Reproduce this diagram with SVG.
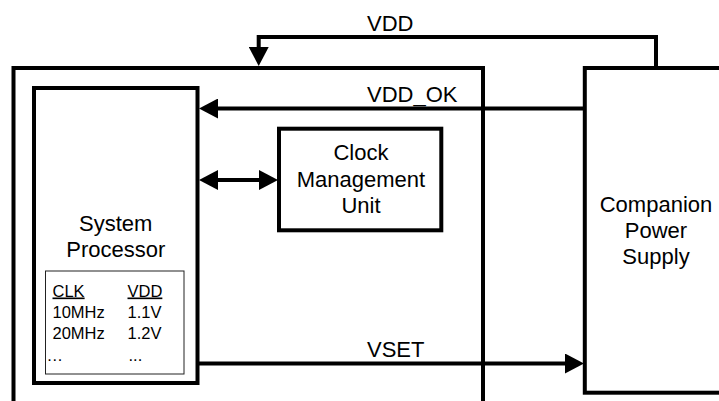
<svg xmlns="http://www.w3.org/2000/svg" width="719" height="401" viewBox="0 0 719 401">
<style>
  .box { fill: #fff; stroke: #000; stroke-width: 4; }
  .tbl { fill: #fff; stroke: #222; stroke-width: 1; }
  .wire { fill: none; stroke: #000; stroke-width: 4; stroke-linejoin: miter; }
  .lbl { font-family: "Liberation Sans", Arial, sans-serif; font-size: 22px; fill: #000; }
  .mid { text-anchor: middle; }
  .small { font-family: "Liberation Sans", Arial, sans-serif; font-size: 16.5px; fill: #000; }
</style>
<defs>
  <marker id="arr" viewBox="0 0 19 20" markerWidth="19" markerHeight="20" refX="9" refY="10" markerUnits="userSpaceOnUse" orient="auto-start-reverse">
    <path d="M0,0 L19,10 L0,20 z" fill="#000"/>
  </marker>
</defs>
<rect width="719" height="401" fill="#fff"/>
<g id="chip">
  <rect class="box" x="13.5" y="68" width="469.5" height="360"/>
</g>
<g id="companion">
  <rect class="box" x="584.8" y="68" width="160" height="324.7"/>
  <text class="lbl mid" x="656" y="211.5">Companion</text>
  <text class="lbl mid" x="656" y="238">Power</text>
  <text class="lbl mid" x="656" y="264">Supply</text>
</g>
<g id="processor">
  <rect class="box" x="34" y="88" width="163.5" height="295"/>
  <text class="lbl mid" x="115.75" y="230.7">System</text>
  <text class="lbl mid" x="115.75" y="256.5">Processor</text>
  <g id="table">
    <rect class="tbl" x="45.5" y="271" width="138.5" height="103"/>
    <text class="small" x="52.5" y="296.5" text-decoration="underline">CLK</text>
    <text class="small" x="127.5" y="296.5" text-decoration="underline">VDD</text>
    <text class="small" x="52.5" y="318">10MHz</text>
    <text class="small" x="127.5" y="318">1.1V</text>
    <text class="small" x="52.5" y="339">20MHz</text>
    <text class="small" x="127.5" y="339">1.2V</text>
    <text class="small" x="46.5" y="360.5">…</text>
    <text class="small" x="128.5" y="360.5">...</text>
  </g>
</g>
<g id="cmu">
  <rect class="box" x="279" y="128.7" width="162.3" height="101.6"/>
  <text class="lbl mid" x="361" y="160">Clock</text>
  <text class="lbl mid" x="361" y="187">Management</text>
  <text class="lbl mid" x="361" y="213.3">Unit</text>
</g>
<g id="connectors">
  <path class="wire" d="M656,68 V37 H258.7 V56" marker-end="url(#arr)"/>
  <path class="wire" d="M585,108.5 H209" marker-end="url(#arr)"/>
  <path class="wire" d="M209,180 H268" marker-start="url(#arr)" marker-end="url(#arr)"/>
  <path class="wire" d="M199,363.5 H574" marker-end="url(#arr)"/>
  <text class="lbl" x="367" y="30.5">VDD</text>
  <text class="lbl" x="367" y="101.5">VDD_OK</text>
  <text class="lbl" x="367" y="356.7">VSET</text>
</g>
</svg>
